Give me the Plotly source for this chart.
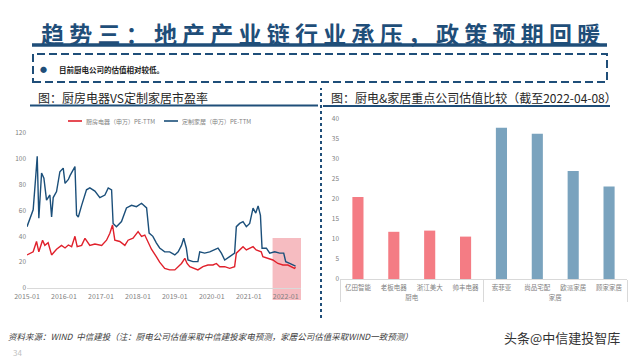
import plotly.graph_objects as go

# ---------------- data ----------------
red_dates = ["2015-01-01","2015-02-02","2015-03-03","2015-04-05","2015-04-28","2015-06-04","2015-06-26",
             "2015-07-29","2015-09-01","2015-10-20","2015-12-08","2016-01-12","2016-02-14","2016-03-17",
             "2016-04-19","2016-05-11","2016-06-24","2016-07-27","2016-09-13","2016-11-02","2017-01-08",
             "2017-02-25","2017-03-30","2017-04-25","2017-05-18","2017-07-06","2017-08-25","2017-09-26",
             "2017-11-14","2018-01-03","2018-02-06","2018-03-10","2018-04-12","2018-05-15","2018-07-02",
             "2018-08-04","2018-09-23","2018-11-11","2019-01-01","2019-02-03","2019-03-08","2019-04-10",
             "2019-05-02","2019-05-29","2019-07-17","2019-08-17","2019-10-06","2019-11-24","2020-01-13",
             "2020-02-16","2020-03-20","2020-05-08","2020-06-26","2020-08-14","2020-08-31","2020-10-03",
             "2020-11-05","2020-12-08","2021-01-10","2021-02-12","2021-03-15","2021-05-04","2021-05-20",
             "2021-07-08","2021-08-27","2021-10-16","2021-12-04","2022-01-22","2022-02-24","2022-03-29",
             "2022-04-08"]
red_vals = [25.6,27,28,36,28,37,33,35,25.6,30,33,31,33.3,32,40,32,33,38.5,33,34,33,
            37,42.4,48.8,37,36,33,37,38.5,43.6,40,41,36,30,24.3,20,15.2,14,14,16.5,19,23,
            19,16.5,15.2,14,16.5,17.8,17.8,19,16.5,16.5,15.2,16.5,27,29.5,32,29.5,31,32,29.5,
            28,24.3,23,21.7,19,17.8,17.8,16.5,15.2,16]

blue_dates = ["2015-01-01","2015-03-03","2015-03-27","2015-04-12","2015-04-28","2015-05-25","2015-06-17",
              "2015-07-13","2015-08-15","2015-09-01","2015-09-17","2015-10-20","2015-11-22","2015-12-25",
              "2016-01-12","2016-02-14","2016-03-01","2016-04-01","2016-04-19","2016-05-05","2016-05-22",
              "2016-06-24","2016-08-11","2016-09-13","2016-11-02","2016-12-21","2017-02-09","2017-03-14",
              "2017-04-16","2017-05-01","2017-06-03","2017-07-23","2017-09-10","2017-10-30","2017-12-18",
              "2018-02-06","2018-03-28","2018-04-22","2018-05-29","2018-07-02","2018-08-04","2018-09-23",
              "2018-11-11","2019-01-01","2019-02-03","2019-03-08","2019-03-30","2019-04-25","2019-05-11",
              "2019-06-29","2019-08-17","2019-09-04","2019-10-23","2019-12-12","2020-01-30","2020-03-03",
              "2020-04-05","2020-05-08","2020-06-26","2020-08-14","2020-08-31","2020-10-03","2020-11-05",
              "2020-12-08","2021-01-10","2021-02-12","2021-03-11","2021-04-03","2021-04-26","2021-05-12",
              "2021-06-24","2021-07-27","2021-09-14","2021-11-02","2021-12-12","2022-01-01","2022-02-09",
              "2022-03-29","2022-04-08"]
blue_vals = [47.5,60.5,85,102,54,89,85,68,72,55,70,74.7,90,92.8,81,84,87,91.5,94,56.6,55,
             64,76,77.5,75,70,72,77.5,76,50,47.5,51.4,62,64,63,65.6,62,42.5,40,35,31,28,
             28,25.6,28,33,38.5,30.8,21.7,20.4,20.4,28,27,28,29.5,30.8,27,21.7,24.3,27,47.5,
             50,51.4,47.5,50,61.8,58,63.6,56.3,30.8,30.8,27,28,27,27,20.4,19,17.8,17]

series_names = ["厨房电器（申万）PE-TTM", "定制家居（申万）PE-TTM"]
series_colors = ["#E0202B", "#1B4F7A"]

groups = ["厨电"] * 4 + ["家居"] * 4
companies = ["亿田智能", "老板电器", "浙江美大", "帅丰电器", "索菲亚", "尚品宅配", "欧派家居", "顾家家居"]
pe_values = [20.5, 11.8, 12.1, 10.6, 37.8, 36.3, 27.0, 23.1]
bar_colors = ["#F47C84"] * 4 + ["#7AA3BE"] * 4

FONT = "Noto Sans CJK SC"
NAVY = "#1F4E79"

def px_x(v):
    return v / 640.0

def px_y(v):
    return (360.0 - v) / 360.0

fig = go.Figure()
fig.add_trace(go.Scatter(x=red_dates, y=red_vals, mode="lines", name=series_names[0],
                         line=dict(color=series_colors[0], width=1.4), xaxis="x", yaxis="y",
                         showlegend=False))
fig.add_trace(go.Scatter(x=blue_dates, y=blue_vals, mode="lines", name=series_names[1],
                         line=dict(color=series_colors[1], width=1.4), xaxis="x", yaxis="y",
                         showlegend=False))
fig.add_trace(go.Bar(x=[groups, companies], y=pe_values, marker=dict(color=bar_colors, line=dict(width=0)),
                     width=0.31, xaxis="x2", yaxis="y2", showlegend=False))

axis_font = dict(family=FONT, size=7, color="#7F7F7F")

fig.update_layout(
    width=640, height=360,
    margin=dict(l=0, r=0, t=0, b=0, autoexpand=False),
    paper_bgcolor="white", plot_bgcolor="white",
    font=dict(family=FONT),
    showlegend=False,
    xaxis=dict(domain=[px_x(27), px_x(301)], type="date", range=["2015-01-01", "2022-06-01"],
               tickformat="%Y-%m", dtick="M12", tick0="2015-01-01", showgrid=False, zeroline=False,
               showline=True, linecolor="#D9D9D9", linewidth=1, ticks="", tickfont=axis_font,
               ticklabelstandoff=2, automargin=False, anchor="y"),
    yaxis=dict(domain=[px_y(288), px_y(133)], range=[0, 120], dtick=20, showgrid=False, zeroline=False,
               showline=False, ticks="", tickfont=dict(family=FONT, size=6.5, color="#7F7F7F"),
               automargin=False, anchor="x"),
    xaxis2=dict(domain=[px_x(340), px_x(627)], type="multicategory", showgrid=False, zeroline=False,
                showline=True, linecolor="#D9D9D9", showdividers=True, dividercolor="#D9D9D9",
                dividerwidth=1, ticks="", tickangle=0, tickfont=dict(family=FONT, size=6.5, color="#7F7F7F"),
                ticklabelstandoff=2, automargin=False, anchor="y2"),
    yaxis2=dict(domain=[px_y(279), px_y(119)], range=[0, 40], dtick=5, showgrid=False, zeroline=False,
                showline=False, ticks="", tickfont=dict(family=FONT, size=6.5, color="#7F7F7F"),
                automargin=False, anchor="x2"),
    bargap=0.5,
)

shapes = [
    # title underline
    dict(type="line", xref="paper", yref="paper", x0=px_x(32), x1=px_x(607), y0=px_y(45), y1=px_y(45),
         line=dict(color=NAVY, width=3.5)),
    # dashed box
    dict(type="rect", xref="paper", yref="paper", x0=px_x(33), x1=px_x(607), y0=px_y(82), y1=px_y(54),
         line=dict(color=NAVY, width=2, dash="8px,4px")),
    # chart title underlines
    dict(type="line", xref="paper", yref="paper", x0=px_x(30), x1=px_x(318), y0=px_y(105.5), y1=px_y(105.5),
         line=dict(color=NAVY, width=2)),
    dict(type="line", xref="paper", yref="paper", x0=px_x(323), x1=px_x(610), y0=px_y(106), y1=px_y(106),
         line=dict(color=NAVY, width=2)),
    # vertical dotted separator
    dict(type="line", xref="paper", yref="paper", x0=px_x(321), x1=px_x(321), y0=px_y(318), y1=px_y(88),
         line=dict(color=NAVY, width=2, dash="3px,3px")),
    # pink highlight
    dict(type="rect", xref="x", yref="paper", x0="2021-08-24", x1="2022-06-01", y0=px_y(300), y1=px_y(238),
         fillcolor="#F6BCC1", line=dict(width=0), layer="below"),
    # legend samples
    dict(type="line", xref="paper", yref="paper", x0=px_x(68), x1=px_x(82), y0=px_y(121), y1=px_y(121),
         line=dict(color=series_colors[0], width=1.6)),
    dict(type="line", xref="paper", yref="paper", x0=px_x(164), x1=px_x(178), y0=px_y(121), y1=px_y(121),
         line=dict(color=series_colors[1], width=1.6)),
]
fig.update_layout(shapes=shapes)

annotations = [
    dict(text="<b>趋 势 三 ： 地 产 产 业 链 行 业 承 压 ， 政 策 预 期 回 暖</b>", x=0.5, y=px_y(33),
         xanchor="center", yanchor="middle", font=dict(family=FONT, size=23, color=NAVY)),
    dict(text="●", x=px_x(43), y=px_y(69), xanchor="center", yanchor="middle",
         font=dict(family=FONT, size=7, color=NAVY)),
    dict(text="<b>目前厨电公司的估值相对较低。</b>", x=px_x(57), y=px_y(69), xanchor="left", yanchor="middle",
         font=dict(family=FONT, size=7.5, color="#222222")),
    dict(text="图：厨房电器VS定制家居市盈率", x=px_x(36), y=px_y(97), xanchor="left", yanchor="middle",
         font=dict(family=FONT, size=12, color="#262626")),
    dict(text="图：厨电&家居重点公司估值比较（截至2022-04-08）", x=px_x(329), y=px_y(97), xanchor="left",
         yanchor="middle", font=dict(family=FONT, size=12, color="#262626")),
    dict(text=series_names[0], x=px_x(84), y=px_y(121), xanchor="left", yanchor="middle",
         font=dict(family=FONT, size=6, color="#7F7F7F")),
    dict(text=series_names[1], x=px_x(180), y=px_y(121), xanchor="left", yanchor="middle",
         font=dict(family=FONT, size=6, color="#7F7F7F")),
    dict(text="<i>资料来源：WIND  中信建投（注：厨电公司估值采取中信建投家电预测，家居公司估值采取WIND一致预测）</i>",
         x=px_x(6), y=px_y(336), xanchor="left", yanchor="middle",
         font=dict(family=FONT, size=8.5, color="#404040")),
    dict(text="34", x=px_x(11), y=px_y(352), xanchor="left", yanchor="middle",
         font=dict(family=FONT, size=8, color="#BFBFBF")),
    dict(text="头条@中信建投智库", x=px_x(622), y=px_y(337), xanchor="right", yanchor="middle",
         font=dict(family=FONT, size=13, color="#333333")),
]
for a in annotations:
    a.update(xref="paper", yref="paper", showarrow=False)
fig.update_layout(annotations=annotations)

fig.write_html("out.html")
